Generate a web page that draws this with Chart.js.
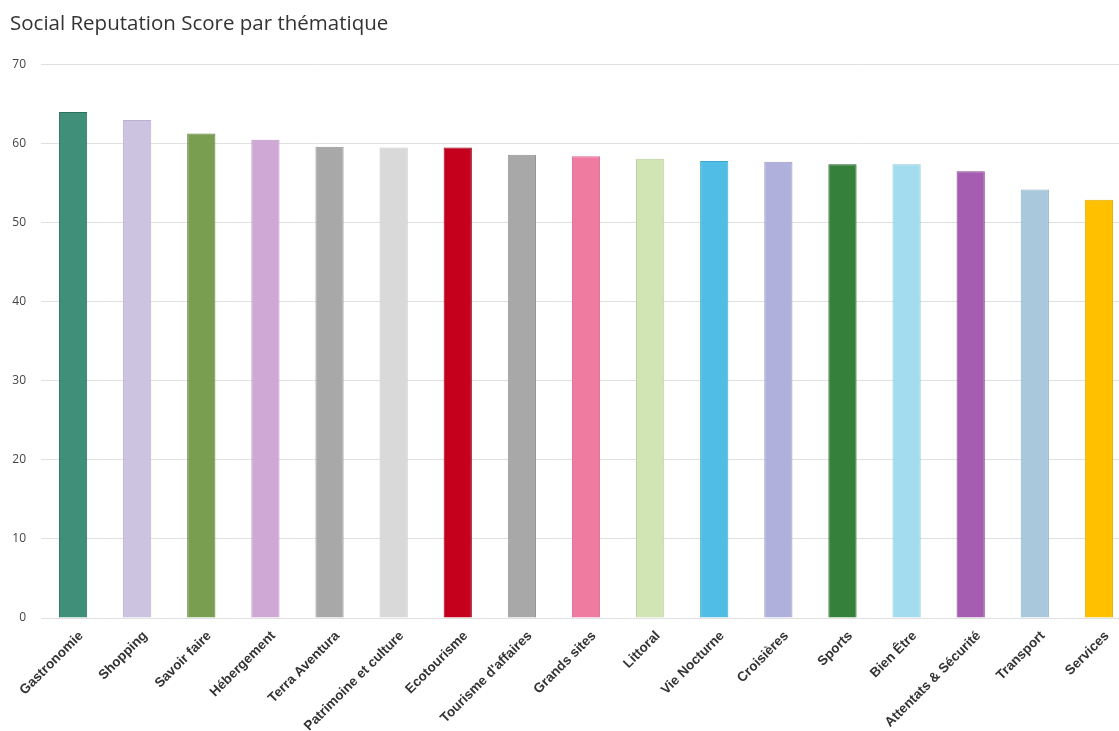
<!DOCTYPE html>
<html>
<head>
<meta charset="utf-8">
<script src="https://cdn.jsdelivr.net/npm/chart.js@4/dist/chart.umd.min.js"></script>
<style>
  html, body { margin: 0; padding: 0; background: #fff; overflow: hidden; }
  #wrap { position: absolute; left: 0; top: 0; width: 1131px; height: 731px; }
</style>
</head>
<body>
<div id="wrap"><canvas id="myChart"></canvas></div>
<script>
const categories = ['Gastronomie', 'Shopping', 'Savoir faire', 'Hébergement', 'Terra Aventura',
    'Patrimoine et culture', 'Ecotourisme', "Tourisme d'affaires", 'Grands sites', 'Littoral',
    'Vie Nocturne', 'Croisières', 'Sports', 'Bien Être', 'Attentats & Sécurité', 'Transport', 'Services'];
const scores = [64.0, 63.0, 61.3, 60.5, 59.6, 59.5, 59.5, 58.6, 58.4, 58.1, 57.8, 57.7, 57.4, 57.4, 56.5, 54.2, 52.9];
const barColors = ['#3f8f79', '#cbc3df', '#7a9e4f', '#d0a8d5', '#a8a8a8', '#d9d9d9', '#c4001d', '#a8a8a8',
    '#ef7ba0', '#d0e4b4', '#4fbde6', '#b0b0dc', '#35803a', '#a3dbef', '#a45db0', '#a9c8dc', '#ffc000'];
const barBorders = ['#2f6f5e', '#b9b1cf', '#5f7f3c', '#bd94c2', '#949494', '#c6c6c6', '#8a0014', '#949494',
    '#d9668c', '#bcd0a0', '#3ba6cf', '#9c9cc8', '#1f5f25', '#8ec7db', '#86428f', '#94b3c8', '#e6ad00'];
const yTicks = [0, 10, 20, 30, 40, 50, 60, 70];

const barData = {
    labels: categories,
    datasets: [{
        label: 'Social Reputation Score',
        data: scores,
        backgroundColor: barColors,
        borderColor: barBorders,
        borderWidth: 1,
        barPercentage: 0.88,
        categoryPercentage: 0.5
    }]
};

const barConfig = {
    type: 'bar',
    data: barData,
    options: {
        responsive: true,
        maintainAspectRatio: false,
        animation: false,
        layout: { autoPadding: false, padding: { left: 10, right: 0, top: 12, bottom: 0 } },
        plugins: {
            legend: { display: false },
            tooltip: { enabled: false },
            title: {
                display: true,
                text: 'Social Reputation Score par thématique',
                align: 'start',
                color: '#333333',
                font: { family: 'Open Sans', size: 20.5, weight: 'normal' },
                padding: { top: 0, bottom: 28 }
            }
        },
        scales: {
            x: {
                grid: { display: false },
                border: { display: false },
                // slanted labels overhang on the left like the original; fixed label band
                afterFit: axis => { axis.paddingLeft = 0; axis.paddingRight = 0; axis.height = 113; },
                ticks: {
                    autoSkip: false,
                    minRotation: 45,
                    maxRotation: 45,
                    padding: 2,
                    labelOffset: 8,
                    color: '#333333',
                    font: { family: 'Liberation Sans', size: 13.5, weight: 'bold' }
                }
            },
            y: {
                min: 0,
                max: 70,
                afterBuildTicks: axis => { axis.ticks = yTicks.map(v => ({ value: v })); },
                afterFit: axis => { axis.width = 31; },
                grid: { color: '#e0e0e0', lineWidth: 1, drawTicks: false },
                border: { display: false },
                ticks: {
                    padding: 15,
                    color: '#444444',
                    font: { family: 'Open Sans', size: 12 }
                }
            }
        }
    }
};

var barChart = new Chart(document.getElementById('myChart'), barConfig);
</script>
</body>
</html>
